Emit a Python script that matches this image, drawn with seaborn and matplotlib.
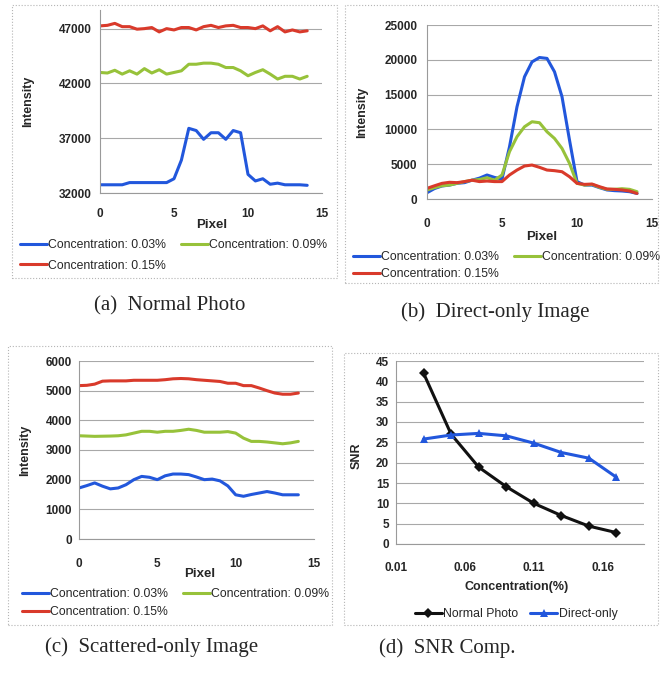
import numpy as np
import pandas as pd
import seaborn as sns
import matplotlib.pyplot as plt
from matplotlib.patches import Rectangle

sns.set_style('white')
plt.rcParams['font.family'] = ['Liberation Sans', 'DejaVu Sans']

# pixel positions along the profile
pixel = [0, 0.5, 1, 1.5, 2, 2.5, 3, 3.5, 4, 4.5, 5, 5.5, 6, 6.5, 7, 7.5,
         8, 8.5, 9, 9.5, 10, 10.5, 11, 11.5, 12, 12.5, 13, 13.5, 14]
conc_labels = ['Concentration: 0.03%', 'Concentration: 0.09%', 'Concentration: 0.15%']

# (a) normal photo
normal_003 = [32750, 32750, 32750, 32750, 32950, 32950, 32950, 32950, 32950, 32950,
              33300, 35000, 37900, 37700, 36900, 37500, 37500, 36900, 37700, 37500,
              33700, 33100, 33300, 32800, 32900, 32750, 32750, 32750, 32700]
normal_009 = [43000, 42950, 43200, 42850, 43150, 42850, 43350, 42950, 43250, 42850,
              43000, 43150, 43750, 43750, 43850, 43850, 43750, 43450, 43450, 43150,
              42700, 43000, 43250, 42850, 42400, 42650, 42650, 42400, 42650]
normal_015 = [47250, 47300, 47480, 47180, 47180, 46950, 47000, 47100, 46700, 47000,
              46880, 47100, 47100, 46880, 47180, 47300, 47100, 47250, 47300, 47100,
              47100, 47000, 47250, 46800, 47180, 46700, 46880, 46700, 46800]

# (b) direct-only image
direct_003 = [900, 1500, 1870, 2000, 2250, 2350, 2700, 3000, 3450, 3100,
              2870, 7500, 13250, 17560, 19700, 20330, 20200, 18280, 14700, 8470,
              2500, 2000, 2000, 1630, 1300, 1200, 1150, 1050, 800]
direct_009 = [1300, 1630, 1900, 2000, 2250, 2500, 2700, 2800, 3060, 2700,
              3450, 6800, 8950, 10380, 11100, 10960, 9660, 8700, 7270, 5120,
              2250, 2000, 2100, 1680, 1390, 1390, 1480, 1390, 1050]
direct_015 = [1530, 1900, 2250, 2400, 2350, 2500, 2700, 2500, 2580, 2500,
              2500, 3450, 4160, 4740, 4880, 4550, 4160, 4070, 3920, 3200,
              2250, 2100, 2150, 1770, 1440, 1390, 1300, 1150, 800]

# (c) scattered-only image
scatter_003 = [1720, 1800, 1890, 1780, 1690, 1720, 1830, 2000, 2110, 2080,
               2000, 2130, 2190, 2190, 2170, 2090, 2000, 2020, 1960, 1790,
               1490, 1440, 1500, 1550, 1600, 1550, 1490, 1490, 1490]
scatter_009 = [3480, 3470, 3460, 3465, 3470, 3480, 3510, 3570, 3630, 3630,
               3600, 3630, 3630, 3660, 3700, 3660, 3600, 3600, 3600, 3620,
               3570, 3400, 3290, 3290, 3270, 3240, 3210, 3240, 3290]
scatter_015 = [5170, 5180, 5220, 5320, 5330, 5330, 5330, 5350, 5350, 5350,
               5350, 5370, 5400, 5410, 5400, 5370, 5350, 5330, 5310, 5250,
               5250, 5170, 5170, 5090, 5000, 4920, 4880, 4880, 4920]

# (d) SNR comparison
snr_conc = [0.03, 0.05, 0.07, 0.09, 0.11, 0.13, 0.15, 0.17]
snr_normal = [42.0, 27.0, 18.9, 14.1, 10.0, 7.0, 4.4, 2.8]
snr_direct = [25.8, 26.8, 27.2, 26.6, 24.8, 22.5, 21.1, 16.4]

line_colors = ['#2257dc', '#97c23a', '#d93a2b']
W, H = 660, 675


def make_ax(left, right, top, bottom):
    return fig.add_axes([left / W, 1 - bottom / H, (right - left) / W, (bottom - top) / H])


def profile_df(a, b, c):
    frames = []
    for lab, vals in zip(conc_labels, [a, b, c]):
        frames.append(pd.DataFrame({'Pixel': pixel, 'Intensity': vals, 'Series': lab}))
    return pd.concat(frames, ignore_index=True)


def style_ax(ax, yticks, xpad, ypad):
    for s in ['top', 'right']:
        ax.spines[s].set_visible(False)
    for s in ['left', 'bottom']:
        ax.spines[s].set_color('#9a9a9a')
        ax.spines[s].set_linewidth(0.8)
    ax.set_yticks(yticks)
    ax.yaxis.grid(True, color='#a8a8a8', linewidth=0.8)
    ax.set_axisbelow(True)
    ax.tick_params(axis='both', length=0, labelsize=8.5)
    ax.tick_params(axis='x', pad=xpad)
    ax.tick_params(axis='y', pad=ypad)
    for t in ax.get_xticklabels() + ax.get_yticklabels():
        t.set_fontweight('bold')


def add_legend(ax, handles, labels, left, top, ncol, labelspacing, colspacing):
    ax.legend(handles, labels, ncol=ncol, loc='upper left',
              bbox_to_anchor=(left / W, 1 - top / H), bbox_transform=fig.transFigure,
              frameon=False, fontsize=8.8, handlelength=2.2, handletextpad=0.1,
              columnspacing=colspacing, labelspacing=labelspacing,
              borderpad=0, borderaxespad=0)


fig = plt.figure(figsize=(W / 100, H / 100), dpi=100)

# panel borders
for (l, t, r, b) in [(12, 5, 337, 278), (345, 5, 658, 283), (8, 346, 332, 625), (344, 353, 658, 625)]:
    fig.patches.append(Rectangle((l / W, 1 - b / H), (r - l) / W, (b - t) / H,
                                 transform=fig.transFigure, fill=False,
                                 edgecolor='#b5b5b5', linewidth=0.8, linestyle=':'))

panels = [
    (profile_df(normal_003, normal_009, normal_015), (100, 322, 10, 193), (32000, 48700),
     [32000, 37000, 42000, 47000], (-0.297, 0.5), (0.505, -0.142), 11, 6, (20, 239), 0.7),
    (profile_df(direct_003, direct_009, direct_015), (427, 652, 25, 199), (0, 25000),
     [0, 5000, 10000, 15000, 20000, 25000], (-0.262, 0.5), (0.511, -0.184), 14, 7, (353, 251), 0.4),
    (profile_df(scatter_003, scatter_009, scatter_015), (79, 314, 361, 539), (0, 6000),
     [0, 1000, 2000, 3000, 4000, 5000, 6000], (-0.204, 0.5), (0.515, -0.163), 14, 5, (22, 588), 0.5),
]

for df, box, ylim, yticks, ylab, xlab, xpad, ypad, leg, lsp in panels:
    ax = make_ax(*box)
    sns.lineplot(data=df, x='Pixel', y='Intensity', hue='Series', palette=line_colors,
                 linewidth=2.2, ax=ax, legend=False)
    ax.set_xlim(0, 15)
    ax.set_ylim(*ylim)
    ax.set_xticks([0, 5, 10, 15])
    style_ax(ax, yticks, xpad, ypad)
    ax.set_ylabel('Intensity', fontsize=9, fontweight='bold')
    ax.set_xlabel('Pixel', fontsize=9.5, fontweight='bold')
    ax.yaxis.set_label_coords(*ylab)
    ax.xaxis.set_label_coords(*xlab)
    h = ax.lines[:3]
    add_legend(ax, [h[0], h[2], h[1]], [conc_labels[0], conc_labels[2], conc_labels[1]],
               leg[0], leg[1], 2, lsp, 1.2)

# SNR panel
snr_df = pd.concat([
    pd.DataFrame({'Concentration': snr_conc, 'SNR': snr_normal, 'Series': 'Normal Photo'}),
    pd.DataFrame({'Concentration': snr_conc, 'SNR': snr_direct, 'Series': 'Direct-only'}),
], ignore_index=True)
ax = make_ax(396, 644, 361, 544)
sns.lineplot(data=snr_df, x='Concentration', y='SNR', hue='Series', style='Series',
             palette=['#111111', '#2257dc'], markers=['D', '^'], dashes=False,
             markersize=5.5, markeredgewidth=0, linewidth=2.2, ax=ax, legend=False)
ax.set_xlim(0.01, 0.19)
ax.set_ylim(0, 45)
ax.set_xticks([0.01, 0.06, 0.11, 0.16])
ax.set_xticklabels(['0.01', '0.06', '0.11', '0.16'])
style_ax(ax, list(range(0, 50, 5)), 13, 5)
ax.set_ylabel('SNR', fontsize=9, fontweight='bold')
ax.set_xlabel('Concentration(%)', fontsize=9, fontweight='bold')
ax.yaxis.set_label_coords(-0.133, 0.48)
ax.xaxis.set_label_coords(0.488, -0.2)
add_legend(ax, ax.lines[:2], ['Normal Photo', 'Direct-only'], 415, 608, 2, 0.4, 1.0)

# captions
cap_font = dict(family='Liberation Serif', fontsize=15, ha='center', va='center')
fig.text(170 / W, 1 - 306 / H, '(a)  Normal Photo', **cap_font)
fig.text(495 / W, 1 - 312 / H, '(b)  Direct-only Image', **cap_font)
fig.text(152 / W, 1 - 647 / H, '(c)  Scattered-only Image', **cap_font)
fig.text(447 / W, 1 - 648 / H, '(d)  SNR Comp.', **cap_font)

fig.savefig('out.png', dpi=100)
